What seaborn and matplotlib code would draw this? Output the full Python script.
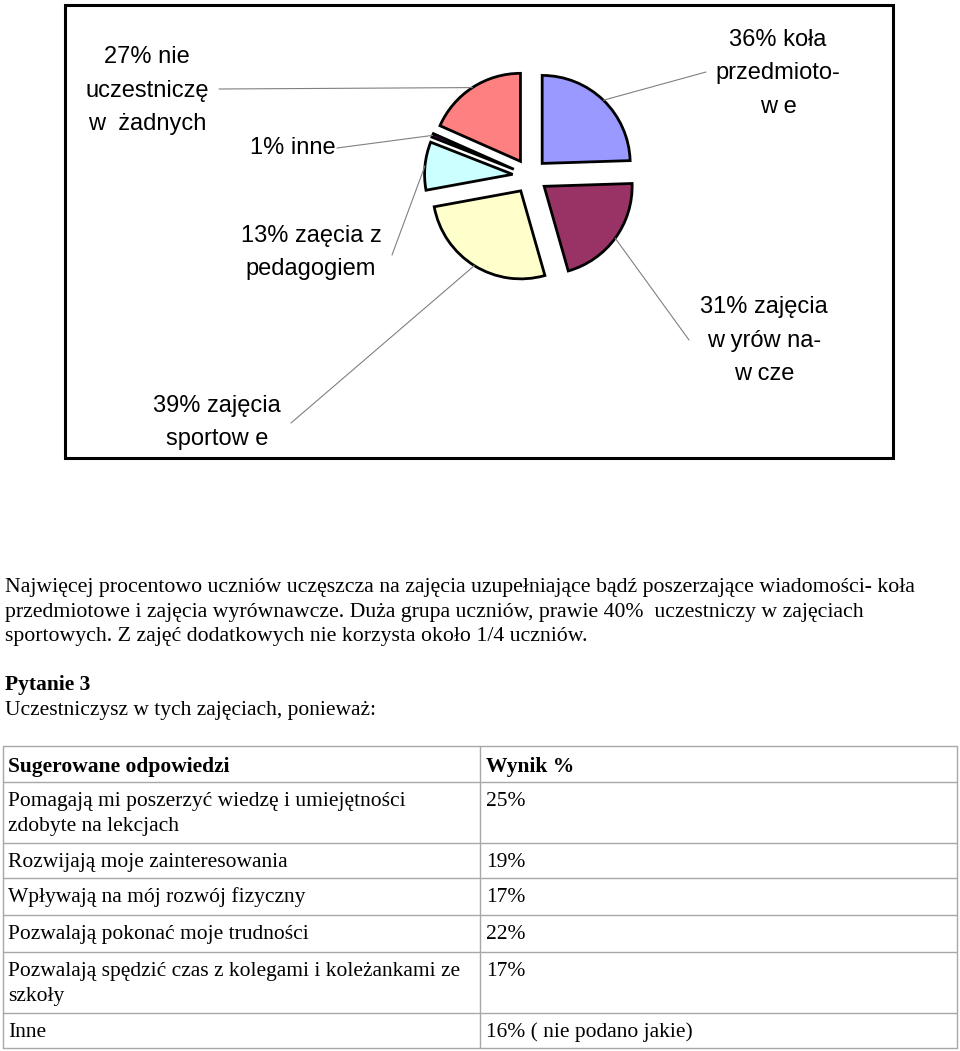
import numpy as np
import matplotlib
matplotlib.use("Agg")
import matplotlib.pyplot as plt
import seaborn as sns
from matplotlib.patches import Rectangle
from matplotlib.lines import Line2D

# ---------------- data ----------------
pie_labels = [
    "36% koła\nprzedmioto-\nw e",
    "31% zajęcia\nw yrów na-\nw cze",
    "39% zajęcia\nsportow e",
    "13% zaęcia z\npedagogiem",
    "1% inne",
    "27% nie\nuczestniczę\nw  żadnych",
]
pie_values = [36, 31, 39, 13, 1, 27]
pie_colors = ["#9999FF", "#993366", "#FFFFCC", "#CCFFFF", "#660066", "#FF8080"]

paragraph_lines = [
    "Najwięcej procentowo uczniów uczęszcza na zajęcia uzupełniające bądź poszerzające wiadomości- koła",
    "przedmiotowe i zajęcia wyrównawcze. Duża grupa uczniów, prawie 40%  uczestniczy w zajęciach",
    "sportowych. Z zajęć dodatkowych nie korzysta około 1/4 uczniów.",
]
question_title = "Pytanie 3"
question_text = "Uczestniczysz w tych zajęciach, ponieważ:"

table_header = ["Sugerowane odpowiedzi", "Wynik %"]
table_answers = [
    "Pomagają mi poszerzyć wiedzę i umiejętności\nzdobyte na lekcjach",
    "Rozwijają moje zainteresowania",
    "Wpływają na mój rozwój fizyczny",
    "Pozwalają pokonać moje trudności",
    "Pozwalają spędzić czas z kolegami i koleżankami ze\nszkoły",
    "Inne",
]
table_results = ["25%", "19%", "17%", "22%", "17%", "16% ( nie podano jakie)"]

# ---------------- layout ----------------
W, H = 960, 1051
sns.set_theme(style="white")
plt.rcParams["font.family"] = ["Liberation Sans", "DejaVu Sans"]
plt.rcParams["text.color"] = "black"

fig = plt.figure(figsize=(9.6, 10.51), dpi=100)
ax = fig.add_axes([0, 0, 1, 1])


def Y(y):
    return H - y


# chart frame
ax.add_patch(Rectangle((65, Y(458)), 893 - 65, 458 - 5, fill=False,
                       edgecolor="black", linewidth=2.2, zorder=1))

wedges, _ = ax.pie(pie_values, colors=pie_colors, startangle=90, counterclock=False,
                   explode=[17.5] * len(pie_values), radius=88, center=(530, Y(176)),
                   frame=True,
                   wedgeprops=dict(edgecolor="black", linewidth=2.0))

label_first_baseline = [(778, 46), (764, 313), (217, 412), (311, 242), (293, 154), (147, 63)]
leader_end = [(706, 72), (689, 340), (291, 423), (392, 255), (337, 148), (219, 89)]
step = 33.5

for w, lab, (lx, ly), (ex, ey) in zip(wedges, pie_labels, label_first_baseline, leader_end):
    tm = np.deg2rad((w.theta1 + w.theta2) / 2)
    cx, cy = w.center
    sx, sy = cx + w.r * np.cos(tm), cy + w.r * np.sin(tm)
    ax.add_line(Line2D([sx, ex], [sy, Y(ey)], color="#808080", linewidth=0.8, zorder=1))
    for i, line in enumerate(lab.split("\n")):
        ax.text(lx, Y(ly + i * step), line, ha="center", va="baseline",
                fontsize=17, family=["Liberation Sans", "DejaVu Sans"], color="black")

# ---------------- body text ----------------
serif = ["Liberation Serif", "DejaVu Serif"]
fs = 15.5
for i, line in enumerate(paragraph_lines):
    ax.text(5, Y(592 + i * 24.5), line, ha="left", va="baseline", fontsize=15.65,
            family=serif, color="black")
ax.text(5, Y(690), question_title, ha="left", va="baseline", fontsize=fs, family=serif,
        fontweight="bold", color="black")
ax.text(5, Y(715), question_text, ha="left", va="baseline", fontsize=fs, family=serif,
        color="black")

# ---------------- table ----------------
row_edges = [746, 782, 843, 878, 915, 952, 1013, 1048]
x_left, x_mid, x_right = 3, 480, 957
grid_col = "#a8a8a8"
for yy in row_edges:
    ax.add_line(Line2D([x_left, x_right], [Y(yy), Y(yy)], color=grid_col, linewidth=1.0))
for xx in (x_left, x_mid, x_right):
    ax.add_line(Line2D([xx, xx], [Y(row_edges[0]), Y(row_edges[-1])], color=grid_col,
                       linewidth=1.0))

ax.text(8, Y(772), table_header[0], ha="left", va="baseline", fontsize=fs, family=serif,
        fontweight="bold", color="black")
ax.text(486, Y(772), table_header[1], ha="left", va="baseline", fontsize=fs, family=serif,
        fontweight="bold", color="black")
line_step = 25.5
for r, (ans, res) in enumerate(zip(table_answers, table_results)):
    top = row_edges[r + 1]
    base = top + 24
    for i, line in enumerate(ans.split("\n")):
        ax.text(8, Y(base + i * line_step), line, ha="left", va="baseline", fontsize=fs,
                family=serif, color="black")
    ax.text(486, Y(base), res, ha="left", va="baseline", fontsize=fs, family=serif,
            color="black")

ax.set_xlim(0, W)
ax.set_ylim(0, H)
ax.axis("off")
fig.savefig("out.png", dpi=100, facecolor="white")
